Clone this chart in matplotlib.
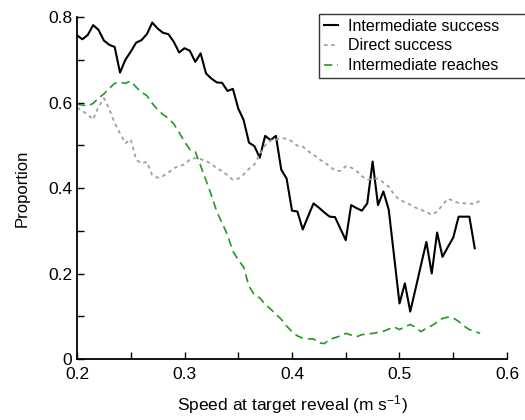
import matplotlib
matplotlib.use("Agg")
import matplotlib.pyplot as plt
from matplotlib.ticker import MultipleLocator
import numpy as np

plt.rcParams['font.family'] = ['Liberation Sans', 'DejaVu Sans']
plt.rcParams['mathtext.default'] = 'regular'

# speed bins (m/s), one every 0.005
speed = np.round(np.arange(0.2, 0.5751, 0.005), 3)

inter_success = [
    0.757, 0.748, 0.758, 0.781, 0.770, 0.745, 0.735, 0.730, 0.670, 0.700,
    0.719, 0.740, 0.746, 0.760, 0.787, 0.773, 0.763, 0.760, 0.742, 0.717,
    0.727, 0.721, 0.695, 0.715, 0.668, 0.656, 0.647, 0.646, 0.627, 0.632,
    0.586, 0.559, 0.506, 0.498, 0.471, 0.522, 0.512, 0.522, 0.443, 0.422,
    0.347, 0.345, 0.303, 0.334, 0.364, 0.354, 0.343, 0.333, 0.332, 0.305,
    0.278, 0.360, 0.353, 0.347, 0.364, 0.462, 0.360, 0.392, 0.349, 0.240,
    0.130, 0.177, 0.111, 0.165, 0.220, 0.274, 0.200, 0.296, 0.239, 0.262,
    0.284, 0.333, 0.333, 0.333, 0.259]

direct_success = [
    0.588, 0.580, 0.572, 0.560, 0.590, 0.610, 0.585, 0.552, 0.528, 0.505,
    0.514, 0.466, 0.458, 0.461, 0.430, 0.424, 0.428, 0.436, 0.446, 0.452,
    0.455, 0.467, 0.470, 0.468, 0.462, 0.458, 0.445, 0.440, 0.430, 0.419,
    0.422, 0.432, 0.445, 0.455, 0.478, 0.500, 0.511, 0.513, 0.517, 0.515,
    0.509, 0.499, 0.497, 0.486, 0.478, 0.468, 0.460, 0.451, 0.441, 0.440,
    0.451, 0.448, 0.440, 0.428, 0.419, 0.422, 0.422, 0.413, 0.403, 0.385,
    0.372, 0.367, 0.361, 0.354, 0.349, 0.344, 0.337, 0.345, 0.360, 0.375,
    0.370, 0.365, 0.364, 0.364, 0.362, 0.371]

inter_reaches = [
    0.596, 0.594, 0.592, 0.598, 0.610, 0.620, 0.633, 0.645, 0.647, 0.645,
    0.650, 0.636, 0.624, 0.616, 0.598, 0.583, 0.572, 0.563, 0.550, 0.530,
    0.508, 0.490, 0.485, 0.452, 0.418, 0.383, 0.345, 0.318, 0.290, 0.252,
    0.232, 0.215, 0.170, 0.150, 0.143, 0.128, 0.117, 0.105, 0.093, 0.077,
    0.064, 0.054, 0.049, 0.047, 0.047, 0.038, 0.036, 0.046, 0.050, 0.054,
    0.060, 0.056, 0.052, 0.057, 0.058, 0.060, 0.062, 0.065, 0.070, 0.075,
    0.069, 0.075, 0.081, 0.074, 0.064, 0.072, 0.078, 0.086, 0.095, 0.098,
    0.096, 0.088, 0.077, 0.069, 0.065, 0.060]

x_ticks = [0.2, 0.3, 0.4, 0.5, 0.6]
x_ticklabels = ['0.2', '0.3', '0.4', '0.5', '0.6']
y_ticks = [0, 0.2, 0.4, 0.6, 0.8]
y_ticklabels = ['0', '0.2', '0.4', '0.6', '0.8']

fig = plt.figure(figsize=(5.25, 4.2), dpi=100)
ax = fig.add_axes([0.1467, 0.1452, 0.819, 0.8143])

ax.plot(speed[:len(inter_success)], inter_success, color='black', lw=1.5,
        label='Intermediate success')
ax.plot(speed[:len(direct_success)], direct_success, color='#a0a0a0', lw=1.3,
        dashes=(2, 2), label='Direct success')
ax.plot(speed[:len(inter_reaches)], inter_reaches, color='#229922', lw=1.2,
        dashes=(5, 3), label='Intermediate reaches')

ax.set_xlim(0.2, 0.6)
ax.set_ylim(0, 0.8)
ax.set_xticks(x_ticks)
ax.set_xticklabels(x_ticklabels)
ax.set_yticks(y_ticks)
ax.set_yticklabels(y_ticklabels)
ax.xaxis.set_minor_locator(MultipleLocator(0.05))
ax.yaxis.set_minor_locator(MultipleLocator(0.1))
ax.tick_params(which='both', direction='in', length=5, width=1, labelsize=12.5)
ax.tick_params(axis='x', pad=6)
ax.spines['top'].set_visible(False)
ax.spines['right'].set_visible(False)
ax.spines['left'].set_linewidth(1.3)
ax.spines['bottom'].set_linewidth(1.3)

ax.set_xlabel('Speed at target reveal (m s$^{-1}$)', fontsize=12.5, labelpad=8)
ax.set_ylabel('Proportion', fontsize=12, labelpad=13)

leg = ax.legend(loc='upper left', bbox_to_anchor=(0.608, 0.812, 0.40, 0.155),
                bbox_transform=fig.transFigure, mode='expand',
                fontsize=11.5, frameon=True,
                fancybox=False, handlelength=0.9, handletextpad=0.6,
                labelspacing=0.3, borderpad=0.3, borderaxespad=0)
leg.get_frame().set_edgecolor('black')
leg.get_frame().set_linewidth(1.0)

fig.savefig('out.png', dpi=100)
